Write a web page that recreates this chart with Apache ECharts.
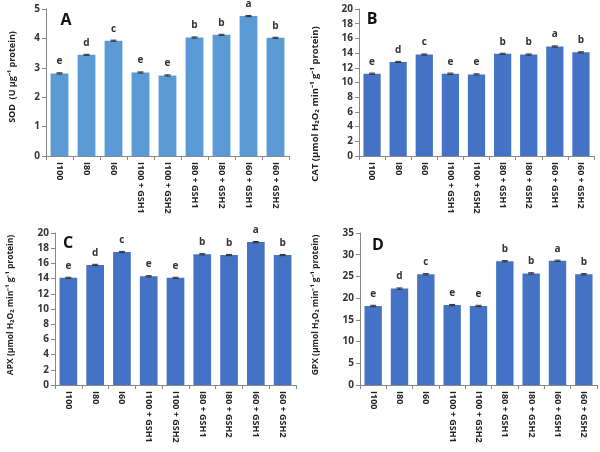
<!DOCTYPE html>
<html>
<head>
<meta charset="utf-8">
<script src="https://cdn.jsdelivr.net/npm/echarts@6/dist/echarts.min.js"></script>
<style>
html,body{margin:0;padding:0;background:#fff;}
#c{width:600px;height:452px;}
</style>
</head>
<body>
<div id="c"></div>
<script>
var categories = ['I100','I80','I60','I100 + GSH1','I100 + GSH2','I80 + GSH1','I80 + GSH2','I60 + GSH1','I60 + GSH2'];

var sodValues = [2.81, 3.44, 3.92, 2.84, 2.74, 4.03, 4.12, 4.76, 4.02];
var sodErrors = [0.02, 0.02, 0.02, 0.02, 0.02, 0.02, 0.02, 0.02, 0.02];
var sodLetters = ['e','d','c','e','e','b','b','a','b'];

var catValues = [11.2, 12.8, 13.8, 11.2, 11.1, 13.9, 13.8, 14.9, 14.1];
var catErrors = [0.08, 0.08, 0.08, 0.08, 0.08, 0.08, 0.08, 0.08, 0.08];
var catLetters = ['e','d','c','e','e','b','b','a','b'];

var apxValues = [14.1, 15.8, 17.5, 14.3, 14.1, 17.2, 17.1, 18.8, 17.1];
var apxErrors = [0.08, 0.08, 0.08, 0.08, 0.08, 0.08, 0.08, 0.08, 0.08];
var apxLetters = ['e','d','c','e','e','b','b','a','b'];

var gpxValues = [18.2, 22.2, 25.5, 18.4, 18.2, 28.5, 25.7, 28.6, 25.5];
var gpxErrors = [0.15, 0.15, 0.15, 0.15, 0.15, 0.15, 0.15, 0.15, 0.15];
var gpxLetters = ['e','d','c','e','e','b','b','a','b'];

var yMax = [5, 20, 20, 35];
var yInterval = [1, 2, 2, 5];

var chart = echarts.init(document.getElementById('c'));

var font = 'Open Sans, Liberation Sans, sans-serif';
var panels = [
  {v: sodValues, e: sodErrors, l: sodLetters, color: '#5B9BD5', grid: {left: 46, top: 9, width: 243, height: 147}},
  {v: catValues, e: catErrors, l: catLetters, color: '#4472C4', grid: {left: 359, top: 9, width: 235, height: 147}},
  {v: apxValues, e: apxErrors, l: apxLetters, color: '#4472C4', grid: {left: 55, top: 233, width: 241, height: 152}},
  {v: gpxValues, e: gpxErrors, l: gpxLetters, color: '#4472C4', grid: {left: 360, top: 233, width: 237, height: 152}}
];

var grids = [], xAxes = [], yAxes = [], series = [];
panels.forEach(function(p, i) {
  grids.push(p.grid);
  xAxes.push({
    type: 'category', gridIndex: i, data: categories,
    axisLine: {lineStyle: {color: '#888', width: 1}},
    axisTick: {show: true, length: 4, lineStyle: {color: '#888'}},
    axisLabel: {rotate: -90, interval: 0, fontSize: 9, fontWeight: 'bold', color: '#222', fontFamily: font, margin: 6}
  });
  yAxes.push({
    type: 'value', gridIndex: i, min: 0, max: yMax[i], interval: yInterval[i],
    splitLine: {show: false},
    axisLine: {show: true, lineStyle: {color: '#888', width: 1}},
    axisTick: {show: true, length: 4, lineStyle: {color: '#888'}},
    axisLabel: {fontSize: 10, fontWeight: 'bold', color: '#333', fontFamily: font, margin: 6}
  });
  series.push({
    type: 'bar', xAxisIndex: i, yAxisIndex: i, data: p.v,
    barWidth: '66%',
    itemStyle: {color: p.color},
    label: {
      show: true, position: 'top', distance: 7,
      formatter: function(d) { return p.l[d.dataIndex]; },
      fontSize: 10, fontWeight: 'bold', color: '#333', fontFamily: font
    },
    z: 2
  });
  series.push({
    type: 'custom', xAxisIndex: i, yAxisIndex: i,
    data: p.v.map(function(v, k) { return [k, v - p.e[k], v + p.e[k]]; }),
    renderItem: function(params, api) {
      var lo = api.coord([api.value(0), api.value(1)]);
      var hi = api.coord([api.value(0), api.value(2)]);
      var hw = 3;
      var st = {stroke: '#333', lineWidth: 1};
      return {type: 'group', children: [
        {type: 'line', shape: {x1: hi[0], y1: hi[1], x2: lo[0], y2: lo[1]}, style: st},
        {type: 'line', shape: {x1: hi[0]-hw, y1: hi[1], x2: hi[0]+hw, y2: hi[1]}, style: st},
        {type: 'line', shape: {x1: lo[0]-hw, y1: lo[1], x2: lo[0]+hw, y2: lo[1]}, style: st}
      ]};
    },
    z: 3
  });
});

var titleStyle = {fontSize: 9, fontWeight: 'bold', fill: '#222', fontFamily: font, align: 'center', verticalAlign: 'middle'};
function yTitle(text, x, y, size) {
  return {type: 'text', x: x, y: y, rotation: Math.PI / 2,
    style: Object.assign({}, titleStyle, {text: text, fontSize: size})};
}
function panelLetter(text, x, y) {
  return {type: 'text', x: x, y: y,
    style: {text: text, fontSize: 16, fontWeight: 'bold', fill: '#111', fontFamily: font, align: 'center', verticalAlign: 'middle'}};
}

chart.setOption({
  animation: false,
  grid: grids, xAxis: xAxes, yAxis: yAxes, series: series,
  graphic: [
    yTitle('SOD  (U µg\u207B\u00B9 protein)', 12, 77, 9),
    yTitle('CAT (µmol H\u2082O\u2082 min\u207B\u00B9 g\u207B\u00B9 protein)', 315, 104, 9.5),
    yTitle('APX (µmol H\u2082O\u2082 min\u207B\u00B9 g\u207B\u00B9 protein)', 11, 305, 8.5),
    yTitle('GPX (µmol H\u2082O\u2082 min\u207B\u00B9 g\u207B\u00B9 protein)', 316, 305, 8.5),
    panelLetter('A', 66, 20),
    panelLetter('B', 372, 19),
    panelLetter('C', 68, 243),
    panelLetter('D', 378, 245)
  ]
});
</script>
</body>
</html>
